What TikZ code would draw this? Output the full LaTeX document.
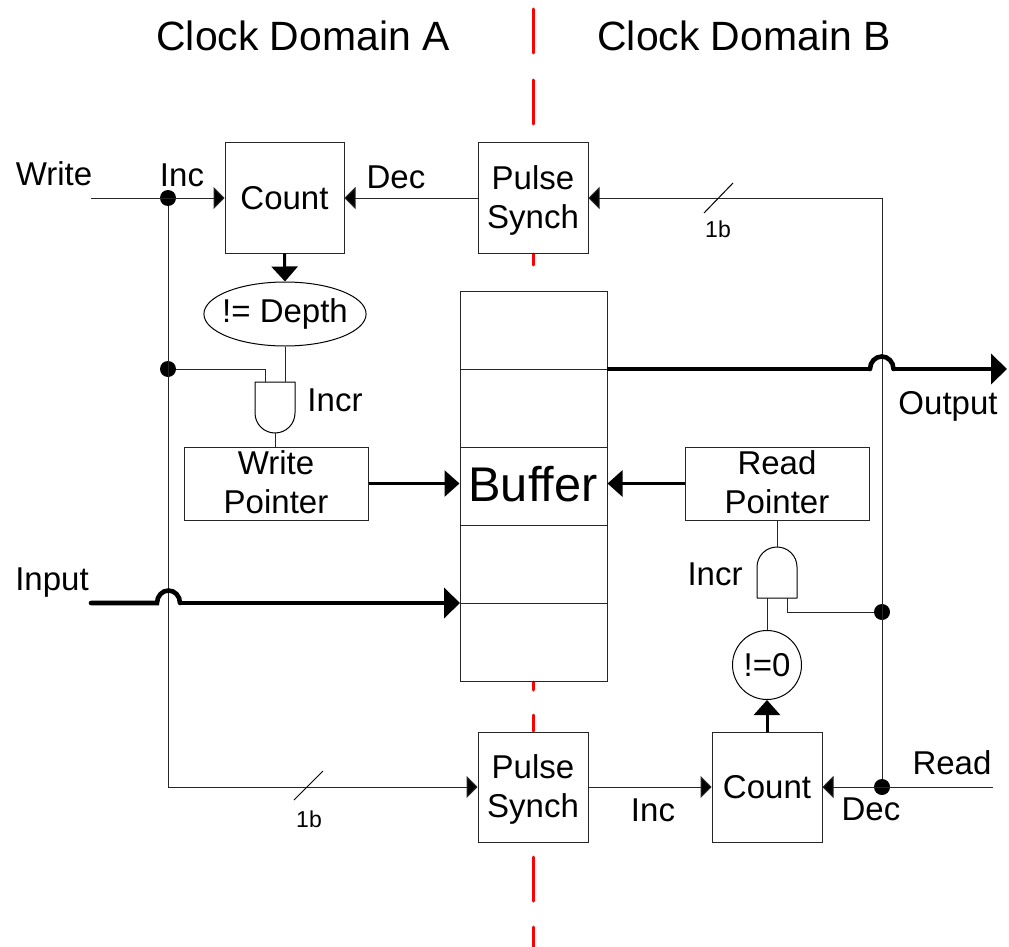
\documentclass[tikz,border=0pt]{standalone}
\usepackage{fontspec}
\setmainfont{Liberation Sans}
\usetikzlibrary{arrows.meta,shapes.geometric}
\tikzset{
  x=1pt,y=-1pt,
  wire/.style={draw=black!85,line width=1pt},
  fat/.style={draw=black,line width=4.6pt,line cap=round},
  mid/.style={draw=black,line width=3pt},
  tipthin/.style={-{Triangle[length=11pt,width=22pt,fill=black]}},
  tipmid/.style={-{Triangle[length=15pt,width=26pt,fill=black]}},
  tipfat/.style={-{Triangle[length=16pt,width=30pt,fill=black]}},
  box/.style={draw=black!85,line width=1pt,rectangle,inner sep=0pt,align=center,font=\fontsize{33}{38.5}\selectfont},
  squarebox/.style={box,minimum width=110pt,minimum height=110pt},
  ptrbox/.style={box,minimum width=184pt,minimum height=73pt},
  rowbox/.style={box,minimum width=147pt,minimum height=78pt},
  lab/.style={inner sep=0pt,font=\fontsize{33}{38.5}\selectfont},
  big/.style={inner sep=0pt,font=\fontsize{40.9}{48}\selectfont},
  small/.style={inner sep=0pt,font=\fontsize{23}{27}\selectfont},
  junction/.style={circle,fill=black,draw=none,minimum size=16pt,inner sep=0pt},
  redcut/.style={draw=red,line width=3pt,line cap=round},
  gate/.style={draw=black,line width=1pt,line join=round},
}
\newcommand{\pulsetext}{\rule{0pt}{28.5pt}Pulse\\[0.3pt]Synch}
\begin{document}
\begin{tikzpicture}
\useasboundingbox (0,0) rectangle (1009,947);
% clock boundary
\coordinate (r1) at (533,9);  \coordinate (r2) at (533,53);
\coordinate (r3) at (533,80); \coordinate (r4) at (533,124);
\coordinate (r5) at (533,254);\coordinate (r6) at (533,265);
\coordinate (r7) at (533,682);\coordinate (r8) at (533,690);
\coordinate (r9) at (533,715);\coordinate (r10) at (533,731);
\coordinate (r11) at (533,857);\coordinate (r12) at (533,901);
\coordinate (r13) at (533,927);\coordinate (r14) at (533,947);
\draw[redcut] (r1)--(r2) (r3)--(r4) (r5)--(r6) (r7)--(r8) (r9)--(r10) (r11)--(r12) (r13)--(r14);
% titles
\node[big] (tA) at (303,36) {Clock Domain A};
\node[big] (tB) at (744,36) {Clock Domain B};
% boxes
\node[squarebox,minimum width=119pt] (countA) at (284.5,198) {Count};
\node[squarebox] (syncT) at (533,198) {\pulsetext};
\node[squarebox] (syncB) at (533,787) {\pulsetext};
\node[squarebox] (countB) at (767,787) {Count};
\node[ptrbox] (wp) at (276,483.5) {Write\\[0.5pt]Pointer\rule[-3pt]{0pt}{0pt}};
\node[ptrbox] (rp) at (777,483.5) {Read\\[0.5pt]Pointer\rule[-3pt]{0pt}{0pt}};
\node[rowbox] (b1) at (533.5,330) {};
\node[rowbox] (b2) at (533.5,408) {};
\node[rowbox] (b3) at (533.5,486) {};
\node[rowbox] (b4) at (533.5,564) {};
\node[rowbox] (b5) at (533.5,642) {};
\node[inner sep=0pt,font=\fontsize{48.7}{54}\selectfont] (buftxt) at (533,484) {Buffer};
\node[draw=black,line width=1pt,ellipse,minimum width=162pt,minimum height=64pt,inner xsep=-5.5pt,inner ysep=0pt,font=\fontsize{33}{38}\selectfont] (depth) at (285,314) {!= Depth};
\node[draw=black,line width=1pt,circle,minimum size=69pt,inner sep=0pt,font=\fontsize{33}{38}\selectfont] (zero) at (767,665) {!=0};
% junctions
\node[junction] (j1) at (168,198) {};
\node[junction] (j2) at (168,369) {};
\node[junction] (j3) at (882,612) {};
\node[junction] (j4) at (882,787) {};
% free ends and pins
\coordinate (writeIn) at (91,198);
\coordinate (readIn) at (993,787);
\coordinate (corner1) at (168,787);
\coordinate (corner2) at (882,198);
\coordinate (inStart) at (91,603);
\coordinate (outEnd) at (1007,369);
\coordinate (inEnd) at (460,603);
\coordinate (outStart) at (607,369);
% AND gate A
\coordinate (gAa) at (265,382);
\coordinate (gAb) at (285,382);
\coordinate (gAo) at (275,433);
\draw[gate] (255,382) -- (295,382) -- (295,413) arc[start angle=0,end angle=180,radius=20pt,y radius=-20pt] -- cycle;
% AND gate B
\coordinate (gBa) at (767,598);
\coordinate (gBb) at (787,598);
\coordinate (gBo) at (777,547);
\draw[gate] (757,598) -- (797,598) -- (797,567) arc[start angle=0,end angle=180,radius=20pt] -- (757,598) -- cycle;
% thin wires
\draw[wire,tipthin] (writeIn) -- (countA.west);
\draw[wire,tipthin] (syncT.west) -- (countA.east);
\draw[wire,tipthin] (corner2) -- (syncT.east);
\draw[wire] (corner2) -- (j4);
\draw[wire] (j1) -- (corner1);
\draw[wire,tipthin] (corner1) -- (syncB.west);
\draw[wire,tipthin] (syncB.east) -- (countB.west);
\draw[wire,tipthin] (readIn) -- (countB.east);
\draw[wire] (depth.south) -- (gAb);
\draw[wire] (j2) -| (gAa);
\draw[wire] (gAo) -- (gAo |- wp.north);
\draw[wire] (zero.north) -- (gBa);
\draw[wire] (j3) -| (gBb);
\draw[wire] (gBo) -- (gBo |- rp.south);
% medium arrows
\draw[mid,tipmid] (countA.south) -- (depth.north);
\draw[mid,tipmid] (countB.north) -- (zero.south);
\draw[mid,tipmid] (wp.east) -- (wp.east -| b3.west);
\draw[mid,tipmid] (rp.west) -- (rp.west -| b3.east);
% thick buses with hops
\coordinate (h1a) at (157,603);\coordinate (h1b) at (180,603);
\coordinate (h2a) at (870,369);\coordinate (h2b) at (893.5,369);
\draw[fat] (inStart) -- (h1a) arc[start angle=180,end angle=0,radius=11.5pt,y radius=12.5pt];
\draw[fat,line cap=butt,tipfat] (h1b) -- (inEnd);
\draw[fat,line cap=butt] (outStart) -- (h2a);
\draw[fat] (h2a) arc[start angle=180,end angle=0,radius=11.75pt,y radius=12.5pt];
\draw[fat,line cap=butt,tipfat] (h2b) -- (outEnd);
% bus-width slashes
\coordinate (s1a) at (294,800);\coordinate (s1b) at (323,771);
\coordinate (s2a) at (704,213);\coordinate (s2b) at (733,183);
\draw[draw=black,line width=1pt] (s1a) -- (s1b) (s2a) -- (s2b);
\node[small] (w1) at (309,819) {1b};
\node[small] (w2) at (718,229) {1b};
% labels
\node[lab] (lWrite) at (54,174) {Write};
\node[lab] (lInc) at (182,175) {Inc};
\node[lab] (lDec) at (396,177) {Dec};
\node[lab] (lIncr) at (335,400) {Incr};
\node[lab] (lOut) at (948,406.5) {Output};
\node[lab] (lIn) at (52,582.5) {Input};
\node[lab] (lIncr2) at (715,574) {Incr};
\node[lab] (lInc2) at (653,810) {Inc};
\node[lab] (lDec2) at (871,809) {Dec};
\node[lab] (lRead) at (952,763) {Read};
\end{tikzpicture}
\end{document}
